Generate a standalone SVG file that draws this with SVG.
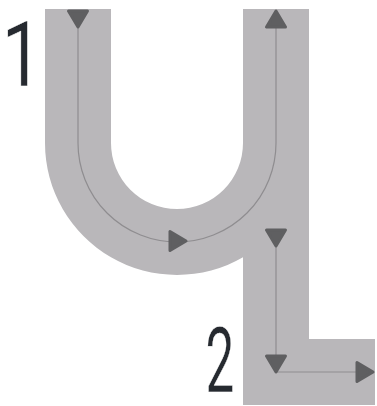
<svg xmlns="http://www.w3.org/2000/svg" width="377" height="406" viewBox="0 0 377 406">
<style>
.shape{fill:#b9b7ba}
.guide{fill:none;stroke:#8f8d90;stroke-width:1.2}
.arrow{fill:#5f5f61;stroke:#5f5f61;stroke-width:3;stroke-linejoin:round}
.num{font-family:Roboto,"Liberation Sans",sans-serif;font-weight:400;font-size:90px;fill:#262a30;stroke:#ffffff;stroke-width:0.5;text-anchor:middle}
</style>
<defs>
<path id="ah" d="M8,0 L-8,-9.5 L-8,9.5 Z"/>
</defs>
<g id="letter">
<path class="shape" d="M45,9 H111 V143 A66,66 0 0 0 243,143 V9 H309 V339 H375 V405 H243 V257.3 A132,132 0 0 1 45,143 Z"/>
</g>
<g id="connectors">
<path class="guide" d="M78,12 V143 A99,99 0 0 0 276,143 V12"/>
<path class="guide" d="M276,239 V372 H370"/>
</g>
<g id="arrows">
<use href="#ah" class="arrow" transform="translate(78,19) rotate(90)"/>
<use href="#ah" class="arrow" transform="translate(276,19) rotate(-90)"/>
<use href="#ah" class="arrow" transform="translate(178,241)"/>
<use href="#ah" class="arrow" transform="translate(276,238) rotate(90)"/>
<use href="#ah" class="arrow" transform="translate(276,364) rotate(90)"/>
<use href="#ah" class="arrow" transform="translate(365,372)"/>
</g>
<g id="label1">
<text class="num" transform="translate(22,86) scale(0.8,1)">1</text>
</g>
<g id="label2">
<text class="num" transform="translate(220,392) scale(0.57,1)">2</text>
</g>
</svg>
